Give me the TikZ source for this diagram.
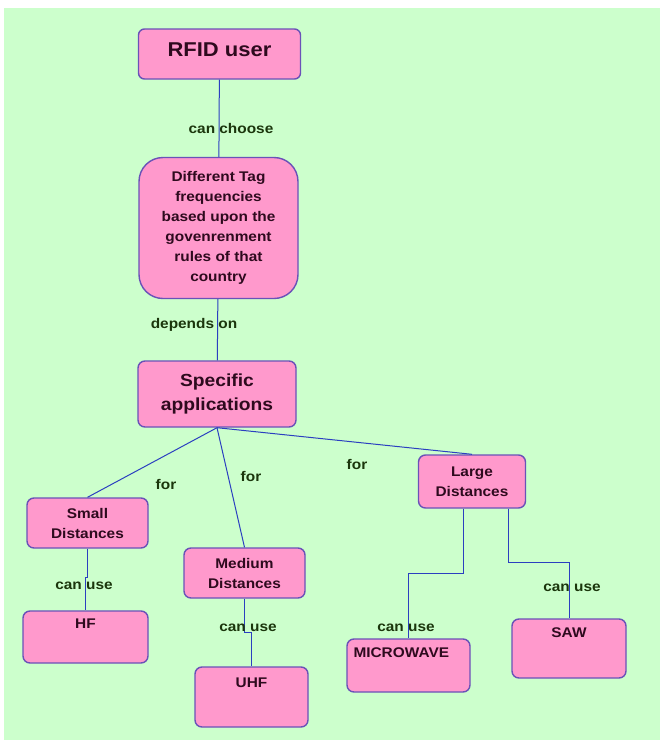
\documentclass[tikz,border=0pt]{standalone}
\usepackage{fontspec}
\setmainfont{Liberation Sans}[FakeStretch=1.1]
\definecolor{bggreen}{HTML}{CCFFCC}
\definecolor{boxfill}{HTML}{FF99CC}
\definecolor{boxline}{HTML}{6A52B8}
\definecolor{boxtext}{HTML}{2E0A1E}
\definecolor{lblgreen}{HTML}{1B360C}
\definecolor{linkblue}{HTML}{2B3FC0}
\tikzset{
	box/.style={draw=boxline, fill=boxfill, line width=1.4pt, rounded corners=7pt, inner sep=0pt, align=center, text=boxtext, font=\bfseries\fontsize{14}{20}\selectfont},
	tag/.style={anchor=north, inner sep=0pt, text=boxtext, font=\bfseries\fontsize{14}{16}\selectfont},
	lbl/.style={text=lblgreen, font=\bfseries\fontsize{14}{16}\selectfont, inner sep=1pt},
	link/.style={draw=linkblue, line width=1pt}
}
\begin{document}
\begin{tikzpicture}[x=1pt, y=-1pt]
		\useasboundingbox (0,0) rectangle (660,740);
		\fill[bggreen] (4,8) rectangle (660,740);

		\node[box, minimum width=162pt, minimum height=50pt, rounded corners=6pt, font=\bfseries\fontsize{20}{24}\selectfont, text depth=8pt] (user) at (219.5,54) {RFID user};
		\node[box, minimum width=159pt, minimum height=141pt, rounded corners=24pt, font=\bfseries\fontsize{14}{20}\selectfont] (tags) at (218.5,228) {Different Tag\\frequencies\\based upon the\\govenrenment\\rules of that\\country};
		\node[box, minimum width=158pt, minimum height=66pt, font=\bfseries\fontsize{17.5}{24}\selectfont] (apps) at (217,394) {Specific\\applications};

		\node[box, minimum width=121pt, minimum height=50pt] (small) at (87.5,523) {Small\\Distances};
		\node[box, minimum width=121pt, minimum height=50pt] (medium) at (244.5,573) {Medium\\Distances};
		\node[box, minimum width=107pt, minimum height=53pt] (large) at (472,481.5) {Large\\Distances};

		\node[box, minimum width=125pt, minimum height=52pt, label={[tag, yshift=-8pt]north:HF}] (hf) at (85.5,637) {};
		\node[box, minimum width=113pt, minimum height=60pt, label={[tag, yshift=-11pt]north:UHF}] (uhf) at (251.5,697) {};
		\node[box, minimum width=123pt, minimum height=53pt, label={[tag, anchor=north west, xshift=7pt, yshift=-9pt]north west:MICROWAVE}] (micro) at (408.5,665.5) {};
		\node[box, minimum width=114pt, minimum height=59pt, label={[tag, yshift=-9pt]north:SAW}] (saw) at (569,648.5) {};

		\draw[link] (user) -- (tags);
		\draw[link] (tags) -- (apps);
		\draw[link] (apps.south) -- (small.north);
		\draw[link] (apps.south) -- (medium.north);
		\draw[link] (apps.south) -- (large.north);
		\draw[link] (small.south) -- ++(0,29) -| (hf.north);
		\draw[link] (medium.south) -- ++(0,34) -| (uhf.north);
		\draw[link] ([xshift=-9pt]large.south) -- ++(0,65) -| (micro.north);
		\draw[link] ([xshift=36pt]large.south) -- ++(0,54) -| (saw.north);

		\node[lbl] (lchoose) at (231,128) {can choose};
		\node[lbl] (ldepends) at (194,325) {depends on};
		\node[lbl] (lforsmall) at (166,484) {for};
		\node[lbl] (lformedium) at (251,476) {for};
		\node[lbl] (lforlarge) at (357,464) {for};
		\node[lbl] (luseh) at (84,586) {can use};
		\node[lbl] (luseu) at (248,628) {can use};
		\node[lbl] (lusem) at (406,628) {can use};
		\node[lbl] (luses) at (572,588) {can use};
	\end{tikzpicture}
\end{document}
